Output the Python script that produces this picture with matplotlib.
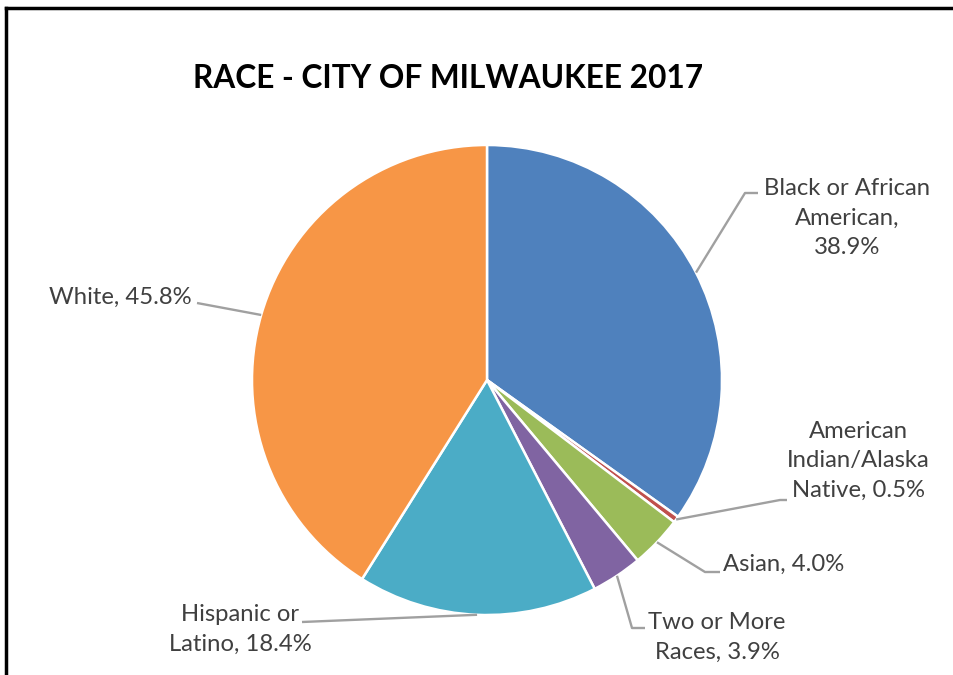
import numpy as np
import matplotlib.pyplot as plt
from matplotlib.lines import Line2D

groups = ["Black or African\nAmerican,\n38.9%",
          "American\nIndian/Alaska\nNative, 0.5%",
          "Asian, 4.0%",
          "Two or More\nRaces, 3.9%",
          "Hispanic or\nLatino, 18.4%",
          "White, 45.8%"]
shares = [38.9, 0.5, 4.0, 3.9, 18.4, 45.8]
colors = ["#4F81BD", "#C0504D", "#9BBB59", "#8064A2", "#4BACC6", "#F79646"]

W, H = 954, 675
CX, CY, R = 487, 380, 235

plt.rcParams['font.family'] = ['Lato', 'DejaVu Sans']

fig = plt.figure(figsize=(W / 100, H / 100), dpi=100)
ax = fig.add_axes([0, 0, 1, 1])


def px(x, y):
    # pixel position -> data units (pie radius = 1)
    return (x - CX) / R, (CY - y) / R


wedges, _ = ax.pie(shares, colors=colors, startangle=90, counterclock=False,
                   radius=1, center=(0, 0), normalize=True,
                   wedgeprops=dict(edgecolor='white', linewidth=1.8))

# pie() resets the limits, so set them afterwards
ax.set_xlim(-CX / R, (W - CX) / R)
ax.set_ylim(-(H - CY) / R, CY / R)
ax.set_aspect('auto')
ax.axis('off')

# label placement: (elbow, line end, text pos, ha)
layout = [
    ((745, 193), (758, 193), (847, 218), 'center'),
    ((780, 500), (787, 500), (858, 461), 'center'),
    ((705, 572), (720, 572), (723, 564), 'left'),
    ((632, 628), (645, 628), (717, 637), 'center'),
    ((302, 622), (302, 622), (240, 629), 'center'),
    ((197, 303), (197, 303), (192, 297), 'right'),
]

for w, label, (elb, end, tpos, ha) in zip(wedges, groups, layout):
    mid = np.deg2rad((w.theta1 + w.theta2) / 2)
    x0, y0 = np.cos(mid), np.sin(mid)
    ex, ey = px(*elb)
    nx, ny = px(*end)
    ax.plot([x0, ex, nx], [y0, ey, ny], color='#A0A0A0', lw=1.7,
            solid_capstyle='butt', zorder=1)
    tx, ty = px(*tpos)
    ax.text(tx, ty, label, ha=ha, va='center', multialignment='center',
            fontsize=17.2, color='#404040', linespacing=1.52)

ax.text(*px(448, 79), "RACE - CITY OF MILWAUKEE 2017", ha='center', va='center',
        fontsize=22.8, fontweight='bold', color='black')

# outer frame (left and top edges)
fig.add_artist(Line2D([6 / W, 6 / W], [0, 1 - 8 / H], transform=fig.transFigure,
                      color='black', lw=2.5))
fig.add_artist(Line2D([6 / W, 1], [1 - 8 / H, 1 - 8 / H], transform=fig.transFigure,
                      color='black', lw=2.5))

fig.savefig("out.png", dpi=100)
